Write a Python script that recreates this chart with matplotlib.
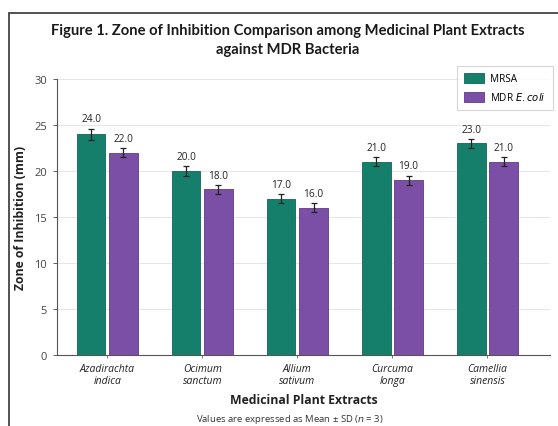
import matplotlib
matplotlib.use("Agg")
import matplotlib.pyplot as plt
from matplotlib.patches import Rectangle
import numpy as np

categories = ["Azadirachta\nindica", "Ocimum\nsanctum", "Allium\nsativum", "Curcuma\nlonga", "Camellia\nsinensis"]
mrsa = [24.0, 20.0, 17.0, 21.0, 23.0]
ecoli = [22.0, 18.0, 16.0, 19.0, 21.0]
mrsa_sd = [0.6, 0.5, 0.5, 0.5, 0.5]
ecoli_sd = [0.5, 0.5, 0.5, 0.5, 0.5]
yticks = [0, 5, 10, 15, 20, 25, 30]

plt.rcParams['font.family'] = ['Open Sans', 'DejaVu Sans']

teal = "#167f6c"
purple = "#7b4fa5"

fig = plt.figure(figsize=(5.58, 4.27), dpi=100)
ax = fig.add_axes([0.102, 0.166, 0.884, 0.647])

# frame border
fig.patches.append(Rectangle((9/558, -0.1), 1.2, 1 - 14/427 + 0.1, transform=fig.transFigure,
                             fill=False, edgecolor="#444444", linewidth=1.3))

x = np.arange(len(categories))
w = 0.30
off = 0.17
ax.bar(x - off, mrsa, w, color=teal, edgecolor="#0f6656", linewidth=0.6, label="MRSA", zorder=3,
       yerr=mrsa_sd, capsize=2.5, error_kw=dict(ecolor="#222222", elinewidth=0.9, capthick=0.9, zorder=4))
ax.bar(x + off, ecoli, w, color=purple, edgecolor="#5f3a86", linewidth=0.6, label="MDR $\\it{E. coli}$", zorder=3,
       yerr=ecoli_sd, capsize=2.5, error_kw=dict(ecolor="#222222", elinewidth=0.9, capthick=0.9, zorder=4))

for xi, v, s in zip(x - off, mrsa, mrsa_sd):
    ax.text(xi, v + s + 0.45, f"{v:.1f}", ha="center", va="bottom", fontsize=7.3, color="#222222")
for xi, v, s in zip(x + off, ecoli, ecoli_sd):
    ax.text(xi, v + s + 0.45, f"{v:.1f}", ha="center", va="bottom", fontsize=7.3, color="#222222")

ax.set_xlim(-0.53, 4.66)
ax.set_ylim(0, 30)
ax.set_yticks(yticks)
ax.set_xticks(x)
ax.set_xticklabels(categories, fontstyle="italic", fontsize=7.5, color="#222222", linespacing=1.05)
ax.tick_params(axis="y", labelsize=8, colors="#444444", length=3, width=0.6, pad=4)
ax.tick_params(axis="x", length=2, width=0.6, colors="#666666", labelcolor="#222222", pad=4)
ax.grid(axis="y", color="#e6e6e6", linewidth=0.7, zorder=0)
for sp in ["top", "right"]:
    ax.spines[sp].set_visible(False)
for sp in ["left", "bottom"]:
    ax.spines[sp].set_color("#555555")
    ax.spines[sp].set_linewidth(0.8)

ax.set_ylabel("Zone of Inhibition (mm)", fontsize=8.8, fontweight="bold", color="#222222", labelpad=5)
ax.set_xlabel("Medicinal Plant Extracts", fontsize=8.8, fontweight="bold", color="#222222", labelpad=5)

fig.text(0.515, 1 - 40.5/427, "Figure 1. Zone of Inhibition Comparison among Medicinal Plant Extracts\nagainst MDR Bacteria",
         ha="center", va="center", fontsize=10.6, fontweight="bold", color="#1a1a1a", linespacing=1.45,
         family=["Lato", "DejaVu Sans"])
fig.text(0.52, 0.002, "Values are expressed as Mean ± SD ($\\it{n}$ = 3)", ha="center", va="bottom",
         fontsize=6.8, color="#333333")

leg = ax.legend(loc="upper right", bbox_to_anchor=(553/558, 1 - 67/427), bbox_transform=fig.transFigure,
                fontsize=7.2, frameon=True, fancybox=False, edgecolor="#cccccc", handlelength=2.0,
                handleheight=1.1, borderpad=0.7, labelspacing=0.7, borderaxespad=0, handletextpad=0.6)
leg.get_frame().set_linewidth(0.8)

fig.savefig("out.png", dpi=100)
